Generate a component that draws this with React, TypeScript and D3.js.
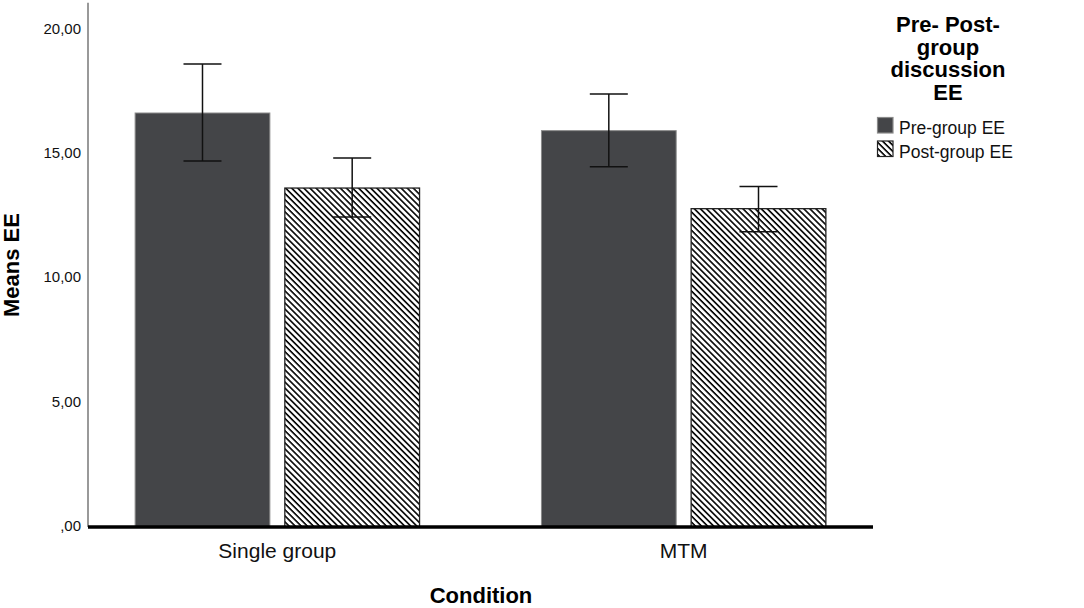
import React from 'react';
import * as d3 from 'd3';

const conditions = ['Single group', 'MTM'];
const series = ['Pre-group EE', 'Post-group EE'];
// means and error bar ends, one row per condition, columns follow series
const means = [
  [16.66, 13.64],
  [15.95, 12.81],
];
const errLow = [
  [14.73, 12.47],
  [14.5, 11.88],
];
const errHigh = [
  [18.63, 14.85],
  [17.42, 13.7],
];
const yTicks = [0, 5, 10, 15, 20];
const legendTitle = ['Pre- Post-', 'group', 'discussion', 'EE'];

const WIDTH = 1084;
const HEIGHT = 608;
const LEFT = 88;
const RIGHT = 873;
const BASE_Y = 527;
const TOP_Y = 30;
const FONT = 'Arial, "Liberation Sans", sans-serif';
const BAR_FILL = '#444548';

const fmt = (v: number) => (v === 0 ? ',00' : v.toFixed(2).replace('.', ','));

const App: React.FC = () => {
  const x = d3.scaleBand<string>()
    .domain(conditions)
    .range([LEFT, RIGHT])
    .paddingInner(0.3)
    .paddingOuter(0.116);

  const xInner = d3.scaleBand<string>()
    .domain(series)
    .range([0, x.bandwidth()])
    .paddingInner(0.1);

  const y = d3.scaleLinear().domain([0, 20]).range([BASE_Y, TOP_Y]);

  const fillFor = (s: number) => (s === 0 ? BAR_FILL : 'url(#hatch)');
  const capW = 38;

  return (
    <svg
      width={WIDTH}
      height={HEIGHT}
      style={{ position: 'absolute', left: 0, top: 0, background: '#fff' }}
      fontFamily={FONT}
    >
      <defs>
        <pattern
          id="hatch"
          patternUnits="userSpaceOnUse"
          width={4.3}
          height={4.3}
          patternTransform="rotate(45)"
        >
          <rect width={4.3} height={4.3} fill="#fff" />
          <line x1={0} y1={0} x2={4.3} y2={0} stroke="#000" strokeWidth={3.2} />
        </pattern>
      </defs>

      {/* y axis */}
      <line x1={LEFT} y1={y(21.1)} x2={LEFT} y2={BASE_Y} stroke="#777" strokeWidth={1.5} />
      {yTicks.map(t => (
        <text
          key={t}
          x={LEFT - 7}
          y={y(t)}
          textAnchor="end"
          dominantBaseline="middle"
          fontSize={15}
          fill="#111"
        >
          {fmt(t)}
        </text>
      ))}

      {/* bars */}
      {conditions.map((c, ci) => (
        <g key={c} transform={`translate(${x(c)},0)`}>
          {series.map((s, si) => {
            const bx = xInner(s) as number;
            const bw = xInner.bandwidth();
            const cx = bx + bw / 2;
            return (
              <g key={s}>
                <rect
                  x={bx}
                  y={y(means[ci][si])}
                  width={bw}
                  height={BASE_Y - y(means[ci][si])}
                  fill={fillFor(si)}
                  stroke={si === 0 ? '#8a8a8a' : '#222'}
                  strokeWidth={si === 0 ? 1 : 1.3}
                />
                <line x1={cx} x2={cx} y1={y(errHigh[ci][si])} y2={y(errLow[ci][si])} stroke="#111" strokeWidth={1.5} />
                <line x1={cx - capW / 2} x2={cx + capW / 2} y1={y(errHigh[ci][si])} y2={y(errHigh[ci][si])} stroke="#111" strokeWidth={1.5} />
                <line x1={cx - capW / 2} x2={cx + capW / 2} y1={y(errLow[ci][si])} y2={y(errLow[ci][si])} stroke="#111" strokeWidth={1.5} />
              </g>
            );
          })}
          <text
            x={x.bandwidth() / 2}
            y={558}
            textAnchor="middle"
            fontSize={21}
            fill="#111"
          >
            {c}
          </text>
        </g>
      ))}

      {/* baseline */}
      <line x1={LEFT} x2={RIGHT} y1={BASE_Y} y2={BASE_Y} stroke="#000" strokeWidth={3.5} />

      {/* axis titles */}
      <text x={481} y={603} textAnchor="middle" fontSize={22} fontWeight="bold" fill="#000">
        Condition
      </text>
      <text
        transform={`translate(19,${265}) rotate(-90)`}
        textAnchor="middle"
        fontSize={22}
        fontWeight="bold"
        fill="#000"
      >
        Means EE
      </text>

      {/* legend */}
      <g>
        {legendTitle.map((l, i) => (
          <text key={l} x={948} y={32 + i * 22.7} textAnchor="middle" fontSize={22} fontWeight="bold" fill="#000">
            {l}
          </text>
        ))}
        {series.map((s, si) => (
          <g key={s} transform={`translate(877,${117 + si * 23.5})`}>
            <rect
              x={0.5}
              y={0.5}
              width={15.5}
              height={15.5}
              fill={fillFor(si)}
              stroke={si === 0 ? '#8a8a8a' : '#222'}
              strokeWidth={1.2}
            />
            <text x={22} y={17} fontSize={17.5} fill="#111">
              {s}
            </text>
          </g>
        ))}
      </g>
    </svg>
  );
};

export default App;
